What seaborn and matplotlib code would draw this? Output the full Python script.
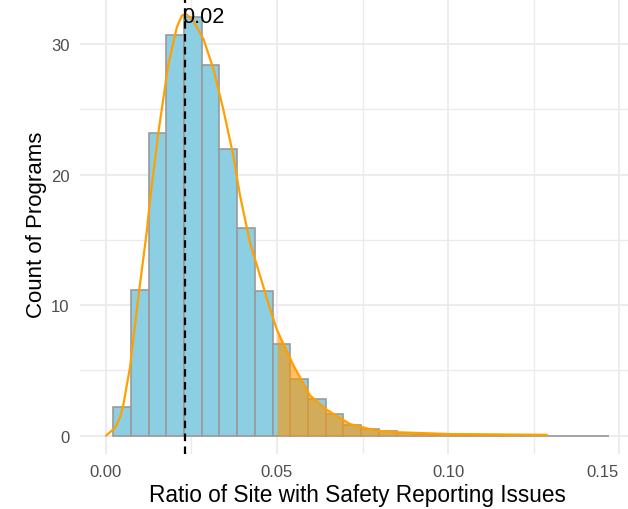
import numpy as np
import pandas as pd
import matplotlib
matplotlib.use("Agg")
import matplotlib.pyplot as plt
import seaborn as sns

# histogram bins
bin_start = 0.0021
bin_width = 0.00518
bin_counts = [2.2, 11.2, 23.2, 30.7, 32.1, 28.4, 22.0, 15.9, 11.1,
              7.05, 4.35, 2.8, 1.66, 0.82, 0.5, 0.35, 0.2, 0.15, 0.1,
              0.06, 0.04, 0.03, 0.02, 0.02, 0.01, 0.0, 0.0, 0.0]

# density curve scaled to counts
kde_x = [0.0, 0.0026, 0.0041, 0.0051, 0.0061, 0.0070, 0.0094, 0.0119, 0.0129,
         0.0153, 0.0182, 0.0207, 0.0222, 0.0235, 0.0255, 0.0285, 0.0314,
         0.0343, 0.0372, 0.0392, 0.0421, 0.0450, 0.0480, 0.0500, 0.0548,
         0.0596, 0.0645, 0.0713, 0.0790, 0.0860, 0.1006, 0.1289]
kde_y = [0.0, 0.6, 1.4, 2.4, 3.9, 5.2, 10.5, 15.6, 18.1,
         23.2, 28.4, 31.3, 32.2, 32.3, 31.8, 30.4, 28.1,
         25.0, 21.5, 18.4, 14.8, 12.3, 9.7, 8.1, 5.4,
         3.1, 2.0, 0.9, 0.38, 0.26, 0.13, 0.07]

mean_ratio = 0.0231
threshold = 0.05
x_ticks = [0.0, 0.05, 0.10, 0.15]
x_tick_labels = ["0.00", "0.05", "0.10", "0.15"]

sns.set_theme(style="white")
plt.rcParams["font.family"] = ["Liberation Sans", "DejaVu Sans"]

n_bins = len(bin_counts)
bin_end = bin_start + bin_width * n_bins
hist_df = pd.DataFrame({
    "ratio": bin_start + bin_width * (np.arange(n_bins) + 0.5),
    "count": bin_counts,
})

fig = plt.figure(figsize=(6.28, 5.10), dpi=100)
ax = fig.add_axes([80 / 628, 55 / 510, 554.4 / 628, 460.7 / 510])

sns.histplot(data=hist_df, x="ratio", weights="count", binwidth=bin_width,
             binrange=(bin_start, bin_end), color="#8ccfe3",
             edgecolor="#9a9a9a", linewidth=1.2, alpha=1, ax=ax, zorder=2)

# shaded tail above the threshold
kx = np.array(kde_x)
ky = np.array(kde_y)
tail = kx >= threshold
ax.fill_between(kx[tail], 0, ky[tail], color="#ff9600", alpha=0.6,
                linewidth=0, zorder=3)
sns.lineplot(x=kde_x, y=kde_y, color="#ffa000", linewidth=1.6, ax=ax,
             zorder=4)

ax.axvline(mean_ratio, color="black", linewidth=1.6, dashes=(3.4, 2.4),
           zorder=5)
ax.text(0.0222, 32.1, f"{mean_ratio:.2f}", ha="left", va="center",
        fontsize=15.6, color="black", zorder=6)

ax.set_xlim(-0.0076, 0.1545)
ax.set_ylim(-1.4, 33.9)
ax.set_xticks(x_ticks)
ax.set_xticklabels(x_tick_labels)
ax.set_xticks([0.025, 0.075, 0.125], minor=True)
ax.set_yticks([0, 10, 20, 30])
ax.set_yticks([5, 15, 25], minor=True)
ax.grid(which="major", color="#ebebeb", linewidth=1.3, zorder=0)
ax.grid(which="minor", color="#ebebeb", linewidth=1.0, zorder=0)
ax.set_axisbelow(True)
for s in ax.spines.values():
    s.set_visible(False)
ax.tick_params(which="both", length=0)
ax.tick_params(axis="x", labelsize=12, colors="#4d4d4d", pad=7)
ax.tick_params(axis="y", labelsize=12, colors="#4d4d4d", pad=7.5)
# keep the last tick label inside the figure edge
ax.get_xticklabels()[-1].set_horizontalalignment("right")
ax.get_xticklabels()[-1].set_x(0.1545)

ax.set_xlabel("Ratio of Site with Safety Reporting Issues", fontsize=16.3,
              color="black", labelpad=3)
ax.set_ylabel("Count of Programs", fontsize=16, color="black", labelpad=3)

fig.savefig("out.png", dpi=100)
plt.close()
